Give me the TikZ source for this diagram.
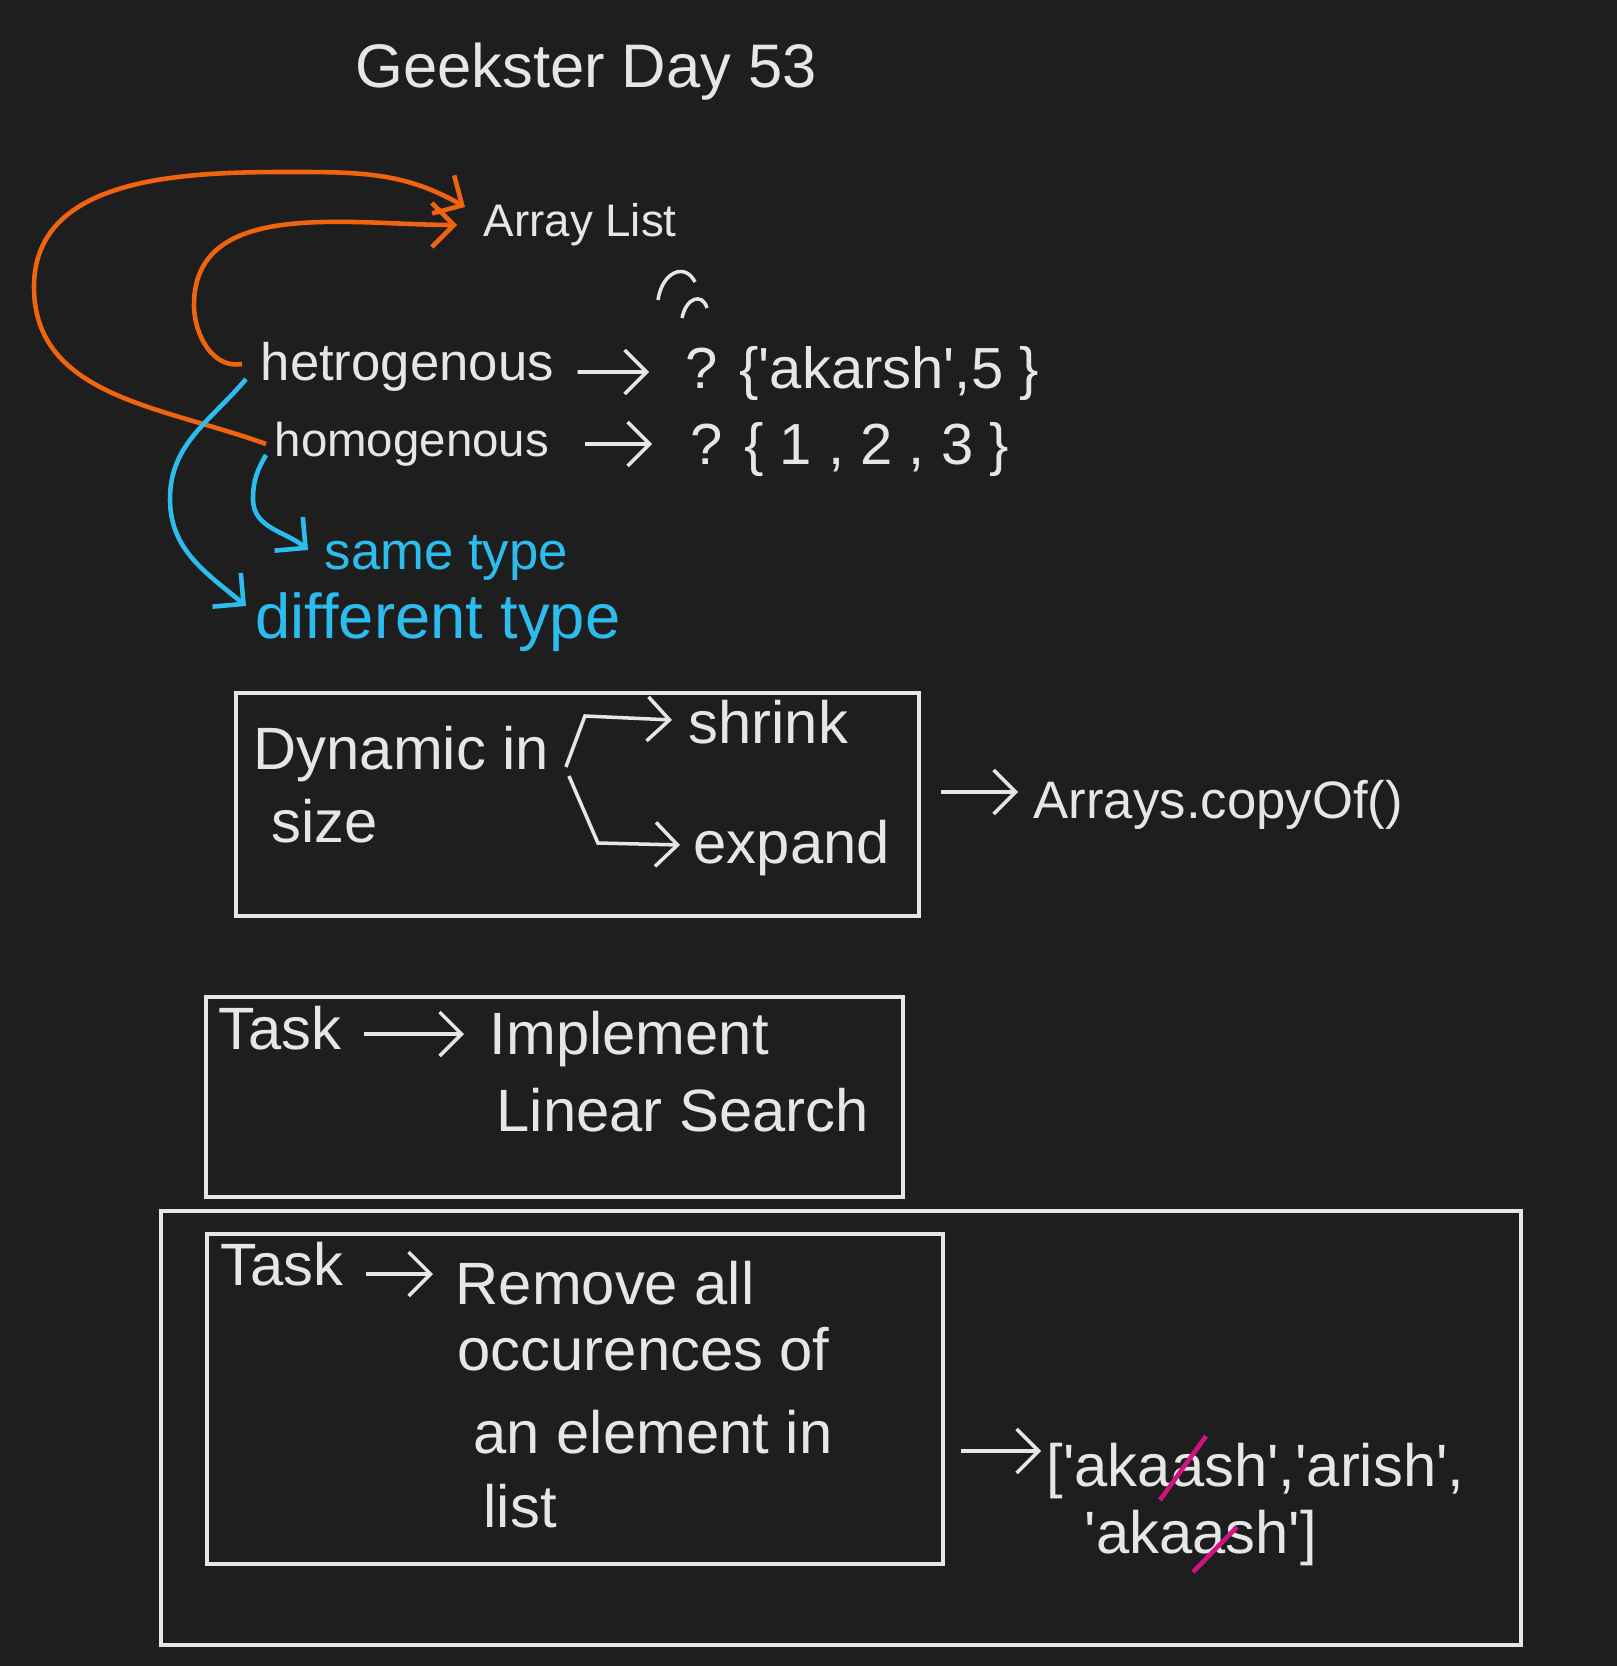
\documentclass[tikz,border=0pt]{standalone}
\usepackage{fontspec}
\setmainfont{Liberation Sans}
\usetikzlibrary{arrows.meta,positioning}
\definecolor{board}{HTML}{1E1E1E}
\definecolor{chalk}{HTML}{E6E6E6}
\definecolor{flame}{HTML}{F0640F}
\definecolor{skyline}{HTML}{2CBDEE}
\definecolor{inkpink}{HTML}{D0147E}
\newcommand{\sq}{\textquotesingle}

\begin{document}
\begin{tikzpicture}[
  x=1cm, y=1cm, >={Straight Barb[length=2.2mm, width=4.4mm]},
  hand/.style={text=chalk, font=\fontsize{16}{19}\selectfont, inner sep=0pt, anchor=west},
  bighand/.style={hand, font=\fontsize{17}{20}\selectfont},
  bluehand/.style={hand, text=skyline},
  frame/.style={rectangle, draw=chalk, line width=1.2pt, inner sep=0pt},
  line/.style={draw=chalk, line width=1pt, ->},
  orangeline/.style={draw=flame, line width=1.3pt, ->},
  blueline/.style={draw=skyline, line width=1.3pt, ->},
  strike/.style={draw=inkpink, line width=1.3pt}
]

  % Background / bounding box
  \fill[board] (0, 0) rectangle (16.17, -16.66);
  \useasboundingbox (0, 0) rectangle (16.17, -16.66);

  % Title
  \node[text=chalk, font=\fontsize{17.5}{21}\selectfont] (title) at (5.86, -0.72) {Geekster Day 53};

  % Array list and its two kinds
  \node[hand, font=\fontsize{13}{16}\selectfont] (arraylist) at (4.83, -2.25) {Array List};
  \draw[chalk, line width=1pt] (6.58, -3.00) .. controls (6.62, -2.72) and (6.85, -2.62) .. (6.95, -2.82);
  \draw[chalk, line width=1pt] (6.82, -3.18) .. controls (6.86, -2.98) and (7.02, -2.92) .. (7.07, -3.08);

  \node[hand, font=\fontsize{15}{18}\selectfont] (hetero) at (2.60, -3.67) {hetrogenous};
  \node[hand, font=\fontsize{16.5}{19}\selectfont] (hetval) at (6.85, -3.74) {? \{\sq akarsh\sq,5 \}};
  \node[hand, font=\fontsize{13.5}{16}\selectfont] (homo) at (2.74, -4.44) {homogenous};
  \node[hand, font=\fontsize{16.5}{19}\selectfont] (homval) at (6.90, -4.50) {? \{ 1 , 2 , 3 \}};

  \node[bluehand, font=\fontsize{15}{18}\selectfont] (same) at (3.24, -5.58) {same type};
  \node[bluehand, font=\fontsize{18}{21}\selectfont] (diff) at (2.55, -6.22) {different type};

  \draw[line] ([xshift=2.3mm, yshift=-0.5mm]hetero.east) -- ([xshift=-3.6mm, yshift=0.2mm]hetval.west);
  \draw[line] ([xshift=3.5mm]homo.east) -- ([xshift=-3.8mm]homo.east -| homval.west);

  % Orange loops up to Array List
  \draw[orangeline] ([xshift=-0.8mm]homo.west) to[out=160, in=-90] (0.34, -2.87)
    to[out=90, in=180] (2.87, -1.72) to[out=0, in=150] ([shift={(-1.8mm, 1.8mm)}]arraylist.west);
  \draw[orangeline] ([xshift=-1.8mm, yshift=0.3mm]hetero.west) to[out=190, in=-90] (1.94, -3.05)
    to[out=90, in=180] ([xshift=-2.6mm]arraylist.west);

  % Blue loops down to the meanings
  \draw[blueline] ([shift={(-1.4mm, -1.2mm)}]hetero.west) to[out=-130, in=90] (1.70, -4.99)
    to[out=-90, in=140] ([shift={(-0.9mm, 1.6mm)}]diff.west);
  \draw[blueline] ([shift={(-0.8mm, -1.1mm)}]homo.west) to[out=-120, in=90] (2.53, -4.99)
    to[out=-90, in=140] ([shift={(-1.6mm, 0.8mm)}]same.west);

  % Dynamic size box
  \node[frame, minimum width=6.83cm, minimum height=2.23cm] (dynbox) at (5.775, -8.045) {};
  \node[bighand] (dyn) at (2.53, -7.54) {Dynamic in};
  \node[bighand] (size) at (2.71, -8.21) {size};
  \node[bighand] (shrink) at (6.88, -7.22) {shrink};
  \node[bighand] (expand) at (6.93, -8.48) {expand};
  \draw[line] ([shift={(1.6mm, -1.3mm)}]dyn.east) -- ++(0.19, 0.51) -- ([xshift=-1.6mm, yshift=0.2mm]shrink.west);
  \draw[line] ([shift={(1.9mm, -2.2mm)}]dyn.east) -- ++(0.29, -0.67) -- ([xshift=-1.3mm, yshift=0.3mm]expand.west);

  \node[hand, font=\fontsize{15}{18}\selectfont] (copyof) at (10.33, -8.05) {Arrays.copyOf()};
  \draw[line] ([xshift=-9.2mm, yshift=1.3mm]copyof.west) -- ([xshift=-1.5mm, yshift=1.3mm]copyof.west);

  % First task
  \node[frame, minimum width=6.97cm, minimum height=2.00cm] (taskbox) at (5.545, -10.97) {};
  \node[bighand] (task) at (2.18, -10.28) {Task};
  \node[bighand] (implement) at (4.89, -10.39) {Implement};
  \node[bighand] (linsearch) at (4.96, -11.10) {Linear Search};
  \draw[line] ([xshift=2.2mm, yshift=-0.6mm]task.east) -- ([xshift=-2.5mm, yshift=-0.6mm]task.east -| implement.west);

  % Second task
  \node[frame, minimum width=13.60cm, minimum height=4.34cm] (outerbox) at (8.41, -14.28) {};
  \node[frame, minimum width=7.36cm, minimum height=3.30cm] (innerbox) at (5.75, -13.99) {};
  \node[bighand] (task2) at (2.20, -12.64) {Task};
  \node[bighand] (remove) at (4.55, -12.83) {Remove all};
  \node[bighand] (occur) at (4.57, -13.49) {occurences of};
  \node[bighand] (element) at (4.73, -14.32) {an element in};
  \node[bighand] (listword) at (4.83, -15.06) {list};
  \draw[line] ([xshift=2.2mm, yshift=-1.0mm]task2.east) -- ([xshift=-2.2mm, yshift=-1.0mm]task2.east -| remove.west);

  \node[bighand] (listone) at (10.46, -14.71) {[\sq akaash\sq ,\sq arish\sq ,};
  \node[bighand] (listtwo) at (10.84, -15.38) {\sq akaash\sq ]};
  \draw[line] ([xshift=-8.5mm, yshift=2.0mm]listone.west) -- ([xshift=-0.5mm, yshift=2.0mm]listone.west);

  % Pink strikes
  \draw[strike] (11.60, -15.00) -- (12.06, -14.36);
  \draw[strike] (11.93, -15.72) -- (12.37, -15.27);

\end{tikzpicture}
\end{document}
